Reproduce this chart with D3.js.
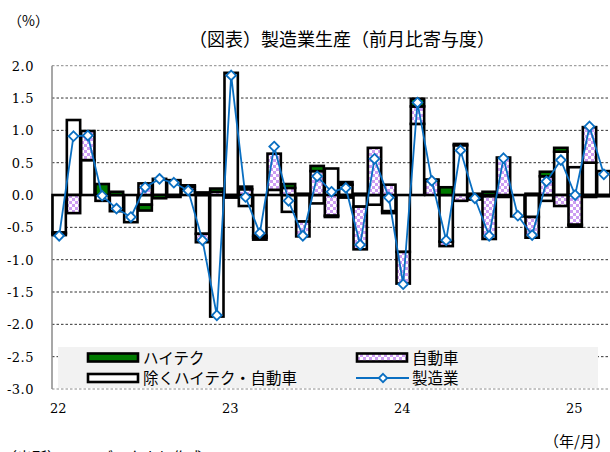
<!DOCTYPE html>
<html><head><meta charset="utf-8">
<script src="https://cdn.jsdelivr.net/npm/d3@7"></script>
<style>
html,body{margin:0;padding:0;background:#fff;}
svg{display:block;}
</style></head>
<body><svg id="c" width="610" height="452"></svg>
<script>
// ---- data ----
const months = ["2022-01","2022-02","2022-03","2022-04","2022-05","2022-06","2022-07","2022-08","2022-09","2022-10","2022-11","2022-12",
"2023-01","2023-02","2023-03","2023-04","2023-05","2023-06","2023-07","2023-08","2023-09","2023-10","2023-11","2023-12",
"2024-01","2024-02","2024-03","2024-04","2024-05","2024-06","2024-07","2024-08","2024-09","2024-10","2024-11","2024-12",
"2025-01","2025-02","2025-03"];
const hightech = [-0.02,0.00,0.00,0.17,0.05,0.00,-0.09,-0.05,-0.03,0.02,0.04,0.05,
-0.04,0.04,-0.03,0.00,0.06,0.02,0.08,-0.02,-0.04,0.02,0.00,-0.03,
0.00,0.12,0.02,0.12,0.02,0.02,0.05,0.00,0.00,0.02,0.07,0.06,
-0.03,-0.03,-0.02];
const auto = [-0.02,-0.28,0.45,0.00,0.00,0.00,0.18,0.00,0.00,0.05,-0.13,0.05,
0.00,0.09,-0.03,0.56,0.11,-0.23,0.37,-0.32,0.04,-0.66,0.73,0.16,
-0.49,0.27,0.22,-0.07,-0.09,-0.05,-0.66,0.58,0.00,-0.32,0.29,-0.17,
-0.46,0.55,0.00];
const others = [-0.58,1.16,0.54,-0.09,-0.25,-0.42,-0.15,0.25,0.23,0.08,-0.60,-1.88,
1.89,-0.17,-0.63,0.08,-0.26,-0.41,-0.13,0.41,0.16,-0.18,-0.15,-0.25,
-0.88,1.10,0.00,-0.72,0.77,-0.02,-0.02,-0.03,-0.33,-0.34,-0.09,0.67,
0.43,0.50,0.37];
const manufacturing = [-0.63,0.91,0.92,-0.01,-0.21,-0.34,0.12,0.25,0.19,0.07,-0.70,-1.86,
1.85,-0.03,-0.59,0.75,-0.09,-0.63,0.29,0.05,0.11,-0.77,0.56,-0.04,
-1.38,1.43,0.22,-0.70,0.69,-0.05,-0.63,0.57,-0.32,-0.62,0.21,0.54,
0.00,1.06,0.32];
const yTicks = [2.0,1.5,1.0,0.5,0.0,-0.5,-1.0,-1.5,-2.0,-2.5,-3.0];
const xTickMonths = ["2022-01","2023-01","2024-01","2025-01"];
const xTickLabels = ["22","23","24","25"];
const seriesNames = {hi:"ハイテク", auto:"自動車", other:"除くハイテク・自動車", total:"製造業"};

// ---- setup ----
const svg = d3.select("#c");
const serif = "'DejaVu Serif','Liberation Serif',serif";
const cjk = "'Noto Sans CJK JP','Noto Sans CJK SC',sans-serif";
const L = 52, R = 611, T = 65.7, B = 389;
const x = d3.scaleBand().domain(months).range([L, R]).paddingInner(0).paddingOuter(0);
const y = d3.scaleLinear().domain([-3, 2]).range([B, T]);

const defs = svg.append("defs");
const pat = defs.append("pattern").attr("id","chk").attr("patternUnits","userSpaceOnUse")
  .attr("width",6).attr("height",6);
pat.append("rect").attr("width",6).attr("height",6).attr("fill","#fff");
pat.append("rect").attr("width",3).attr("height",3).attr("fill","#cc9cf2");
pat.append("rect").attr("x",3).attr("y",3).attr("width",3).attr("height",3).attr("fill","#cc9cf2");

// gridlines
svg.append("g").selectAll("line").data(yTicks.filter(d => d !== 0)).join("line")
  .attr("x1", L).attr("x2", 610).attr("y1", d => y(d)).attr("y2", d => y(d))
  .attr("stroke", d => (d === 2 || d === -3) ? "#8a8a8a" : "#333")
  .attr("stroke-width", 1).attr("stroke-dasharray", "2.5,2");

// zero line
svg.append("line").attr("x1", L).attr("x2", 610).attr("y1", y(0)).attr("y2", y(0))
  .attr("stroke", "#000").attr("stroke-width", 1.5);

// y axis
svg.append("line").attr("x1", L).attr("x2", L).attr("y1", T).attr("y2", B)
  .attr("stroke", "#8a8a8a").attr("stroke-width", 1.5);
svg.append("g").selectAll("text").data(yTicks).join("text")
  .attr("x", 34).attr("y", d => y(d) + 5)
  .attr("text-anchor", "end").attr("font-family", serif).attr("font-size", 13)
  .attr("letter-spacing", 0.5)
  .text(d => d3.format(".1f")(d).replace("−","-"));

// x labels
svg.append("g").selectAll("text").data(xTickMonths).join("text")
  .attr("x", (d) => x(d) + x.bandwidth()/2 - 1).attr("y", 413)
  .attr("text-anchor", "middle").attr("font-family", serif).attr("font-size", 13)
  .text((d, i) => xTickLabels[i]);

// stacked bars
const rows = months.map((m, i) => ({month: m, other: others[i], auto: auto[i], hi: hightech[i]}));
const stack = d3.stack().keys(["other","auto","hi"]).offset(d3.stackOffsetDiverging);
const layers = stack(rows);
const fills = {other: "#ffffff", auto: "url(#chk)", hi: "#007a00"};
const gBars = svg.append("g");
layers.forEach(layer => {
  gBars.append("g").selectAll("rect")
    .data(layer.filter(d => Math.abs(d[1] - d[0]) > 1e-9))
    .join("rect")
    .attr("x", d => x(d.data.month) + 0.5)
    .attr("width", x.bandwidth() - 1)
    .attr("y", d => y(Math.max(d[0], d[1])))
    .attr("height", d => Math.abs(y(d[0]) - y(d[1])))
    .attr("fill", fills[layer.key])
    .attr("stroke", "#000").attr("stroke-width", 2.6);
});

// line
const lineGen = d3.line().x((d, i) => x(months[i]) + x.bandwidth()/2).y(d => y(d));
svg.append("path").datum(manufacturing).attr("d", lineGen)
  .attr("fill", "none").attr("stroke", "#0a6fc2").attr("stroke-width", 1.8);
const diamond = d3.symbol().type(d3.symbolDiamond2).size(60);
svg.append("g").selectAll("path").data(manufacturing).join("path")
  .attr("d", diamond)
  .attr("transform", (d, i) => `translate(${x(months[i]) + x.bandwidth()/2},${y(d)})`)
  .attr("fill", "#fff").attr("stroke", "#0a6fc2").attr("stroke-width", 1.8);

// legend
const lg = svg.append("g");
lg.append("rect").attr("x", 58).attr("y", 347).attr("width", 540).attr("height", 41).attr("fill", "#f2f2f2");
const legItems = [
  {key:"hi", col:0, row:0},
  {key:"auto", col:1, row:0},
  {key:"other", col:0, row:1},
  {key:"total", col:1, row:1}
];
const colX = [88, 357], rowY = [357.5, 378];
legItems.forEach(it => {
  const sx = colX[it.col], sy = rowY[it.row];
  if (it.key === "total") {
    lg.append("line").attr("x1", sx - 1).attr("x2", sx + 52).attr("y1", sy).attr("y2", sy)
      .attr("stroke", "#0a6fc2").attr("stroke-width", 1.8);
    lg.append("path").attr("d", d3.symbol().type(d3.symbolDiamond2).size(45))
      .attr("transform", `translate(${sx + 26},${sy})`)
      .attr("fill", "#fff").attr("stroke", "#0a6fc2").attr("stroke-width", 1.8);
  } else {
    lg.append("rect").attr("x", sx).attr("y", sy - 4).attr("width", 50).attr("height", 8)
      .attr("fill", fills[it.key]).attr("stroke", "#000").attr("stroke-width", 2.6);
  }
  lg.append("text").attr("x", sx + 55).attr("y", sy + 6)
    .attr("font-family", cjk).attr("font-size", 15.5).text(seriesNames[it.key]);
});

// texts
svg.append("text").attr("x", 8).attr("y", 26).attr("font-family", cjk).attr("font-size", 14).text("（%）");
svg.append("text").attr("x", 342).attr("y", 46).attr("text-anchor", "middle")
  .attr("font-family", cjk).attr("font-size", 18).text("（図表）製造業生産（前月比寄与度）");
svg.append("text").attr("x", 610).attr("y", 447).attr("text-anchor", "end")
  .attr("font-family", cjk).attr("font-size", 15).text("（年/月）");
svg.append("text").attr("x", 2).attr("y", 463)
  .attr("font-family", cjk).attr("font-size", 15).text("（出所）CEIC データより作成");
</script></body></html>
